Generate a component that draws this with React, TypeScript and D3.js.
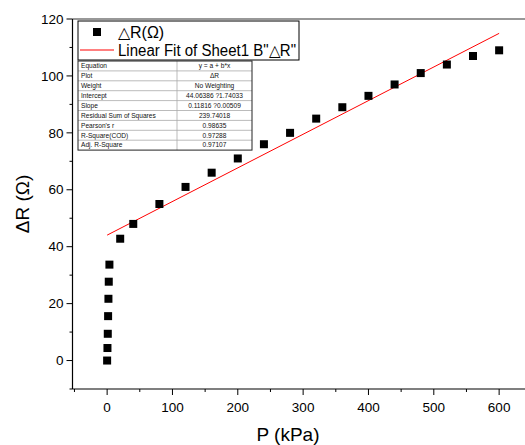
import React from "react";
import * as d3 from "d3";

const pressure = [0, 0.5, 1, 1.5, 2, 2.5, 3.5, 20, 40, 80, 120, 160, 200, 240, 280, 320, 360, 400, 440, 480, 520, 560, 600];
const deltaR = [0, 4.4, 9.4, 15.6, 21.7, 27.7, 33.7, 42.8, 48, 55, 61, 66, 71, 76, 80, 85, 89, 93, 97, 101, 104, 107, 109];
const fitIntercept = 44.06386;
const fitSlope = 0.11816;
const fitRange = [0, 600];
const xTicks = [0, 100, 200, 300, 400, 500, 600];
const yTicks = [0, 20, 40, 60, 80, 100, 120];
const tableRows: [string, string][] = [
  ["Equation", "y = a + b*x"],
  ["Plot", "ΔR"],
  ["Weight", "No Weighting"],
  ["Intercept", "44.06386 ?1.74033"],
  ["Slope", "0.11816 ?0.00509"],
  ["Residual Sum of Squares", "239.74018"],
  ["Pearson's r", "0.98635"],
  ["R-Square(COD)", "0.97288"],
  ["Adj. R-Square", "0.97107"],
];

export default function App() {
  const W = 525, H = 445;
  const x = d3.scaleLinear().domain([-53, 650]).range([72.5, 531.8]);
  const y = d3.scaleLinear().domain([-10, 120]).range([389, 19]);
  const font = "Liberation Sans, Arial, sans-serif";
  const xMinor = d3.range(-50, 651, 50);
  const yMinor = d3.range(-10, 121, 10);
  const line = d3.line<number>().x((v) => x(v)).y((v) => y(fitIntercept + fitSlope * v));
  const tx = 78, ty = 61, tw = 174, rh = 9.9, c1 = 99;
  return (
    <svg width={W} height={H} style={{ position: "absolute", left: 0, top: 0, background: "#fff" }} fontFamily={font}>
      <rect width={W} height={H} fill="#fff" />
      {/* frame */}
      <line x1={x(-53)} x2={W} y1={y(120)} y2={y(120)} stroke="#333" strokeWidth={1.2} />
      <line x1={x(-53)} x2={x(-53)} y1={y(-10)} y2={y(120)} stroke="#000" strokeWidth={1.2} />
      <line x1={x(-53)} x2={W} y1={y(-10)} y2={y(-10)} stroke="#000" strokeWidth={1.2} />
      {/* x ticks */}
      {xMinor.map((v) => (
        <line key={"xm" + v} x1={x(v)} x2={x(v)} y1={y(-10)} y2={y(-10) + (v % 100 === 0 ? 6 : 3)} stroke="#000" />
      ))}
      {xTicks.map((v) => (
        <text key={"xt" + v} x={x(v)} y={y(-10) + 23} fontSize={13.5} textAnchor="middle">{v}</text>
      ))}
      {/* y ticks */}
      {yMinor.map((v) => (
        <line key={"ym" + v} x1={x(-53)} x2={x(-53) - (v % 20 === 0 ? 6 : 3)} y1={y(v)} y2={y(v)} stroke="#000" />
      ))}
      {yTicks.map((v) => (
        <text key={"yt" + v} x={x(-53) - 9} y={y(v)} dy="0.35em" fontSize={13.5} textAnchor="end">{v}</text>
      ))}
      <text x={288} y={441} fontSize={19} textAnchor="middle">P (kPa)</text>
      <text transform={`translate(29,${y(55)}) rotate(-90)`} fontSize={19} textAnchor="middle">ΔR (Ω)</text>
      {/* fit line */}
      <path d={line(fitRange) || ""} stroke="#ff0000" strokeWidth={1} fill="none" />
      {/* points */}
      {pressure.map((p, i) => (
        <rect key={"p" + i} x={x(p) - 4} y={y(deltaR[i]) - 4} width={8} height={8} fill="#000" />
      ))}
      {/* legend */}
      <rect x={78} y={21} width={221} height={39} fill="#fff" stroke="#000" strokeWidth={1} />
      <rect x={93} y={28} width={8} height={8} fill="#000" />
      <text x={118} y={38} fontSize={16}>△R(Ω)</text>
      <line x1={80} x2={114} y1={50} y2={50} stroke="#ff0000" strokeWidth={1} />
      <text x={118} y={56} fontSize={16} textLength={178} lengthAdjust="spacingAndGlyphs">Linear Fit of Sheet1 B"△R"</text>
      {/* table */}
      <rect x={tx} y={ty} width={tw} height={rh * 9} fill="#fff" />
      {tableRows.map((r, i) => (
        <g key={"r" + i}>
          {i > 0 && <line x1={tx} x2={tx + tw} y1={ty + i * rh} y2={ty + i * rh} stroke="#aaa" strokeWidth={0.8} />}
          <text x={tx + 3} y={ty + i * rh + 7.2} fontSize={6.6} fill="#111">{r[0]}</text>
          <text x={tx + c1 + (tw - c1) / 2} y={ty + i * rh + 7.2} fontSize={6.6} textAnchor="middle" fill="#111">{r[1]}</text>
        </g>
      ))}
      <line x1={tx + c1} x2={tx + c1} y1={ty} y2={ty + rh * 9} stroke="#aaa" strokeWidth={0.8} />
      <rect x={tx} y={ty} width={tw} height={rh * 9} fill="none" stroke="#222" strokeWidth={1} />
    </svg>
  );
}
